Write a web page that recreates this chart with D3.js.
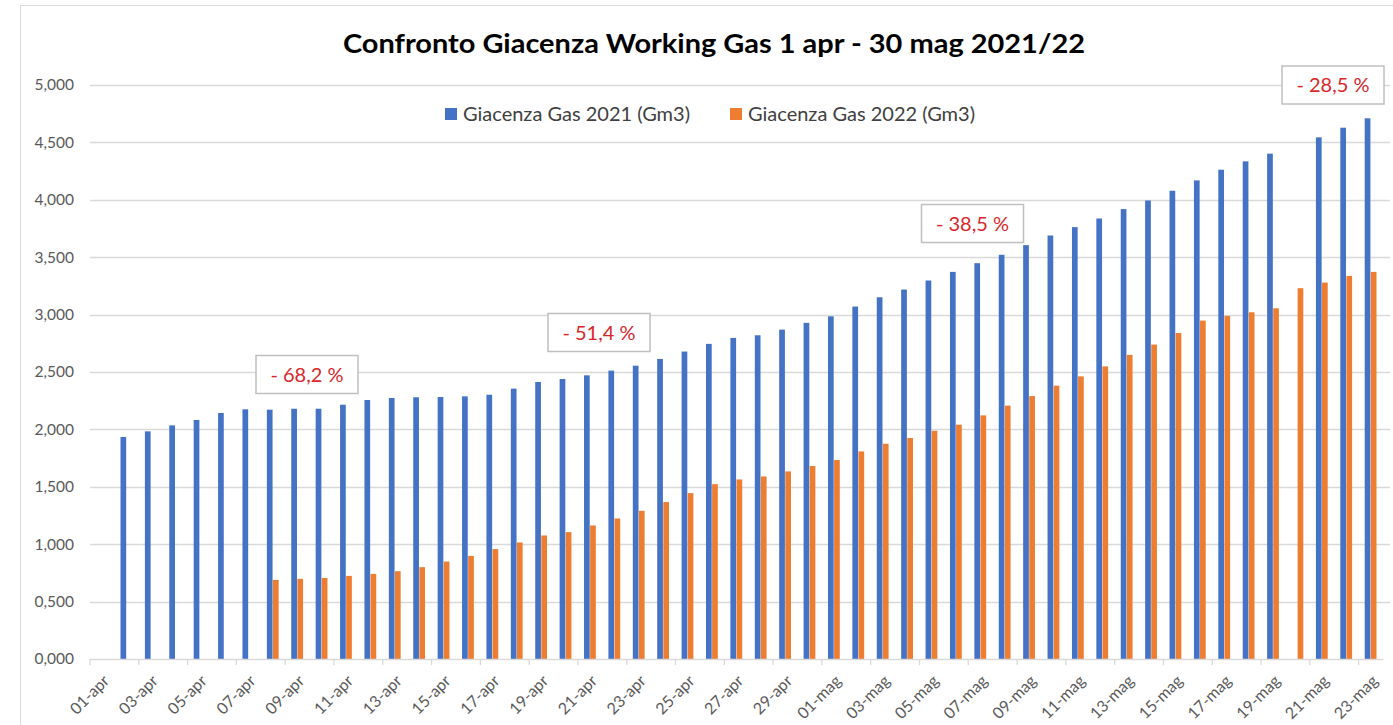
<!DOCTYPE html>
<html>
<head>
<meta charset="utf-8">
<script src="https://cdn.jsdelivr.net/npm/d3@7"></script>
<style>
  html, body { margin: 0; padding: 0; background: #fff; }
  svg { display: block; }
</style>
</head>
<body>
<svg id="chart" width="1393" height="725"></svg>
<script>
// ---------------- DATA ----------------
const categories = [
  "01-apr","02-apr","03-apr","04-apr","05-apr","06-apr","07-apr","08-apr","09-apr","10-apr",
  "11-apr","12-apr","13-apr","14-apr","15-apr","16-apr","17-apr","18-apr","19-apr","20-apr",
  "21-apr","22-apr","23-apr","24-apr","25-apr","26-apr","27-apr","28-apr","29-apr","30-apr",
  "01-mag","02-mag","03-mag","04-mag","05-mag","06-mag","07-mag","08-mag","09-mag","10-mag",
  "11-mag","12-mag","13-mag","14-mag","15-mag","16-mag","17-mag","18-mag","19-mag","20-mag",
  "21-mag","22-mag","23-mag"
];
const gas2021 = [
  null, 1.934, 1.983, 2.035, 2.082, 2.143, 2.175, 2.172, 2.180, 2.180,
  2.215, 2.256, 2.274, 2.280, 2.282, 2.288, 2.302, 2.355, 2.413, 2.439,
  2.471, 2.512, 2.555, 2.614, 2.678, 2.745, 2.797, 2.820, 2.869, 2.928,
  2.985, 3.070, 3.151, 3.218, 3.297, 3.372, 3.448, 3.521, 3.605, 3.689,
  3.762, 3.837, 3.919, 3.994, 4.079, 4.169, 4.262, 4.335, 4.402, null,
  4.544, 4.628, 4.710
];
const gas2022 = [
  null, null, null, null, null, null, null, 0.689, 0.698, 0.706,
  0.724, 0.741, 0.765, 0.800, 0.849, 0.898, 0.957, 1.015, 1.076, 1.105,
  1.163, 1.224, 1.291, 1.367, 1.445, 1.523, 1.564, 1.590, 1.634, 1.681,
  1.733, 1.808, 1.875, 1.925, 1.988, 2.041, 2.122, 2.207, 2.290, 2.381,
  2.462, 2.549, 2.649, 2.739, 2.840, 2.948, 2.989, 3.020, 3.055, 3.230,
  3.279, 3.337, 3.372
];
const seriesNames = ["Giacenza Gas 2021 (Gm3)", "Giacenza Gas 2022 (Gm3)"];
const yTickValues = [0, 0.5, 1, 1.5, 2, 2.5, 3, 3.5, 4, 4.5, 5];
const annotationTexts = ["- 68,2 %", "- 51,4 %", "- 38,5 %", "- 28,5 %"];
const titleText = "Confronto Giacenza Working Gas 1 apr - 30 mag 2021/22";

// ---------------- LAYOUT ----------------
const W = 1393, H = 725;
const plot = { left: 90, right: 1383, top: 85, bottom: 659 };
const colors = ["#4472C4", "#ED7D31"];
const font = "Lato, 'Open Sans', sans-serif";
// annotation box centres (pixel layout)
const annPos = [[307, 374.5], [599, 332.5], [972.5, 223.5], [1333, 85]];

const svg = d3.select("#chart");

// chart frame
svg.append("rect")
  .attr("x", 20.5).attr("y", 5.5)
  .attr("width", W + 20).attr("height", H + 20)
  .attr("fill", "#fff").attr("stroke", "#d9d9d9").attr("stroke-width", 1);

const x = d3.scaleBand()
  .domain(categories)
  .range([plot.left, plot.right])
  .paddingInner(0.5)
  .paddingOuter(0.25);

const xSub = d3.scaleBand()
  .domain([0, 1])
  .range([0, x.bandwidth()]);

const y = d3.scaleLinear().domain([0, 5]).range([plot.bottom, plot.top]);

// gridlines
svg.append("g")
  .selectAll("line")
  .data(yTickValues.filter(v => v > 0))
  .join("line")
  .attr("x1", plot.left).attr("x2", plot.right + 7)
  .attr("y1", d => Math.round(y(d)) + 0.5).attr("y2", d => Math.round(y(d)) + 0.5)
  .attr("stroke", "#d9d9d9").attr("stroke-width", 1.3);

// y axis labels
const yAxis = d3.axisLeft(y)
  .tickValues(yTickValues)
  .tickSize(0)
  .tickPadding(0)
  .tickFormat(d => d3.format(".3f")(d).replace(".", ","));
const yG = svg.append("g").attr("transform", `translate(${plot.left - 16},0)`).call(yAxis);
yG.select(".domain").remove();
yG.selectAll("text")
  .attr("font-family", font).attr("font-size", 15.5).attr("fill", "#595959");

// bars
const series = [gas2021, gas2022];
series.forEach((vals, si) => {
  svg.append("g")
    .selectAll("rect")
    .data(categories.map((c, i) => ({ c, v: vals[i] })).filter(d => d.v != null))
    .join("rect")
    .attr("x", d => x(d.c) + xSub(si))
    .attr("width", xSub.bandwidth() - 0.4)
    .attr("y", d => y(d.v))
    .attr("height", d => y(0) - y(d.v))
    .attr("fill", colors[si]);
});

// x axis
const xAxis = d3.axisBottom(x)
  .tickValues(categories.filter((c, i) => i % 2 === 0))
  .tickSize(0)
  .tickPadding(0);
const xG = svg.append("g").attr("transform", `translate(0,${plot.bottom})`).call(xAxis);
xG.select(".domain").attr("stroke", "#d9d9d9").attr("stroke-width", 1.5);
xG.selectAll(".tick line").remove();
xG.selectAll(".tick text")
  .attr("font-family", font).attr("font-size", 16).attr("fill", "#595959")
  .attr("text-anchor", "end")
  .attr("dy", "0.35em")
  .attr("transform", "translate(4,19) rotate(-45)");
// tick marks at category boundaries every 2 categories
svg.append("g")
  .selectAll("line")
  .data(categories.filter((c, i) => i % 2 === 0))
  .join("line")
  .attr("x1", d => x(d) - x.step() * x.paddingInner() / 2)
  .attr("x2", d => x(d) - x.step() * x.paddingInner() / 2)
  .attr("y1", plot.bottom).attr("y2", plot.bottom + 6)
  .attr("stroke", "#d9d9d9").attr("stroke-width", 1.3);

// title
svg.append("text")
  .attr("x", 714).attr("y", 53)
  .attr("text-anchor", "middle")
  .attr("font-family", font).attr("font-weight", "bold").attr("font-size", 27)
  .attr("textLength", 742).attr("lengthAdjust", "spacingAndGlyphs")
  .attr("fill", "#000")
  .text(titleText);

// legend
const legendX = [445, 730];
const legend = svg.append("g");
seriesNames.forEach((name, i) => {
  legend.append("rect")
    .attr("x", legendX[i]).attr("y", 108).attr("width", 12).attr("height", 12)
    .attr("fill", colors[i]);
  legend.append("text")
    .attr("x", legendX[i] + 18).attr("y", 121)
    .attr("font-family", font).attr("font-size", 20).attr("fill", "#404040")
    .text(name);
});

// annotations
annotationTexts.forEach((t, i) => {
  const [cx, cy] = annPos[i];
  const g = svg.append("g");
  g.append("rect")
    .attr("x", cx - 51).attr("y", cy - 19).attr("width", 102).attr("height", 38)
    .attr("fill", "#fff").attr("stroke", "#bfbfbf").attr("stroke-width", 1.5);
  g.append("text")
    .attr("x", cx).attr("y", cy)
    .attr("dy", "0.35em")
    .attr("text-anchor", "middle")
    .attr("font-family", font).attr("font-size", 20).attr("fill", "#d9262b")
    .text(t);
});
</script>
</body>
</html>
